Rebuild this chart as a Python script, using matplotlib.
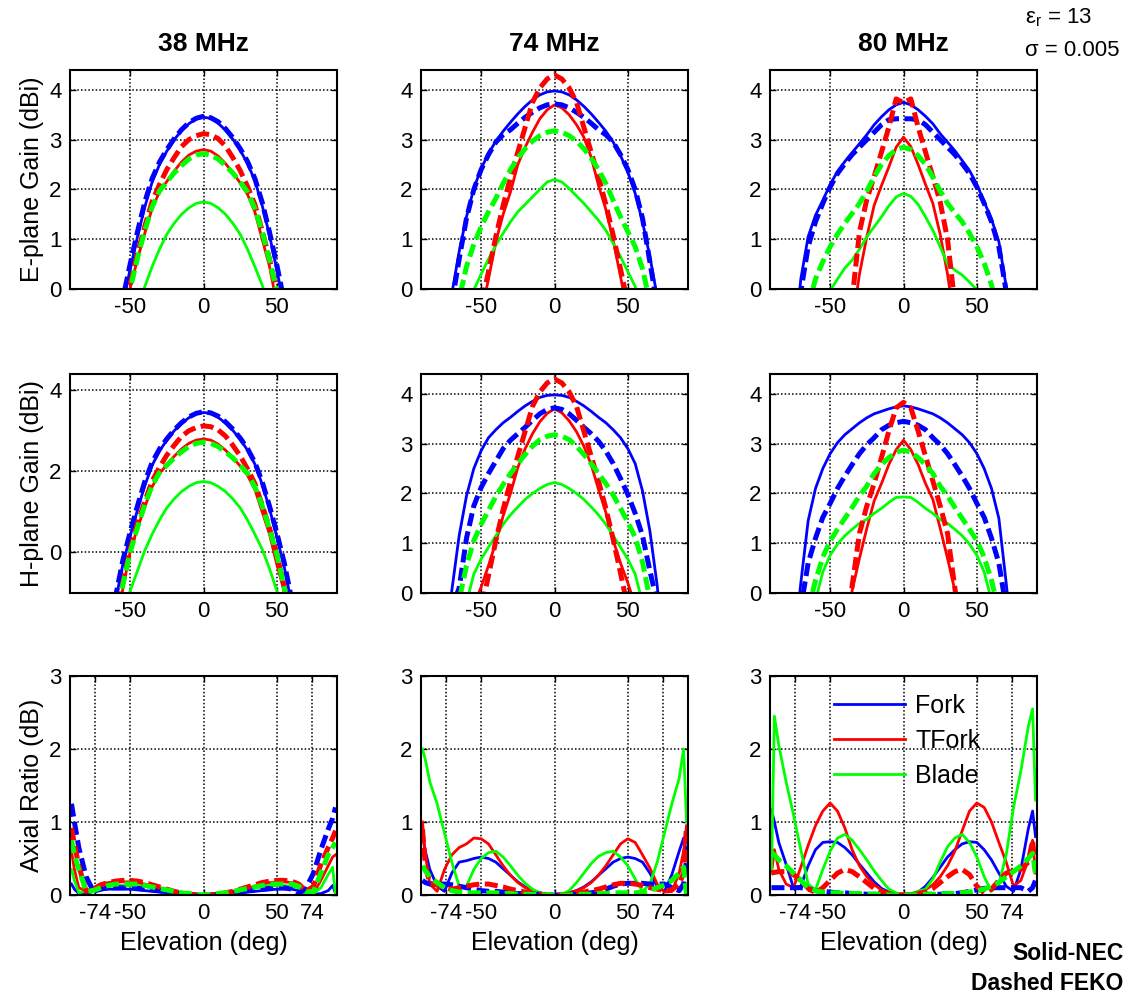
import matplotlib
matplotlib.use("Agg")
import matplotlib.pyplot as plt

plt.rcParams['font.family'] = ['Liberation Sans', 'DejaVu Sans']
plt.rcParams['mathtext.fontset'] = 'custom'
plt.rcParams['mathtext.rm'] = 'Liberation Sans'
plt.rcParams['axes.unicode_minus'] = False

# ---------------- data ----------------
freqs = ["38 MHz", "74 MHz", "80 MHz"]
names = ["Fork", "TFork", "Blade"]

# gain patterns, elevation -75..75 step 5
gain_ang = list(range(-75, 80, 5))

# 38 MHz (E- and H-plane traces read identical)
fork_nec_38 = [-5.0, -3.6, -2.3, -1.2, -0.3, 0.4, 1.05, 1.65, 2.15, 2.5, 2.77, 3.0, 3.18, 3.32, 3.42, 3.45,
               3.43, 3.33, 3.19, 3.01, 2.79, 2.52, 2.18, 1.68, 1.08, 0.38, -0.35, -1.25, -2.3, -3.6, -5.0]
fork_feko_38 = [-4.8, -3.4, -2.1, -1.1, -0.2, 0.5, 1.15, 1.75, 2.22, 2.55, 2.8, 3.02, 3.2, 3.34, 3.43, 3.47,
                3.44, 3.36, 3.22, 3.04, 2.82, 2.56, 2.22, 1.74, 1.14, 0.48, -0.25, -1.15, -2.2, -3.5, -4.9]
tfork_nec_38 = [-5.5, -4.2, -3.0, -1.95, -0.9, 0.02, 0.6, 1.12, 1.62, 1.95, 2.16, 2.37, 2.55, 2.69, 2.77, 2.8,
                2.77, 2.67, 2.52, 2.34, 2.13, 1.9, 1.55, 1.0, 0.45, -0.3, -0.95, -1.95, -3.0, -4.2, -5.5]
tfork_feko_38 = [-5.8, -4.3, -3.0, -1.75, -0.75, 0.08, 0.72, 1.26, 1.76, 2.1, 2.4, 2.64, 2.86, 3.0, 3.08, 3.12,
                 3.1, 3.02, 2.87, 2.64, 2.38, 2.06, 1.7, 1.17, 0.6, -0.05, -0.85, -1.85, -3.0, -4.3, -5.8]
blade_nec_38 = [-5.0, -3.9, -3.0, -2.2, -1.5, -0.95, -0.45, 0.05, 0.45, 0.8, 1.1, 1.32, 1.5, 1.63, 1.72, 1.75,
                1.72, 1.63, 1.5, 1.32, 1.1, 0.8, 0.45, 0.08, -0.4, -0.95, -1.5, -2.2, -3.0, -3.9, -5.0]
blade_feko_38 = [-5.4, -4.0, -2.8, -1.7, -0.8, 0.0, 0.62, 1.18, 1.65, 1.97, 2.15, 2.33, 2.48, 2.61, 2.69, 2.72,
                 2.69, 2.61, 2.48, 2.33, 2.15, 1.95, 1.62, 1.15, 0.58, -0.05, -0.85, -1.75, -2.8, -4.0, -5.4]

# 74 MHz E-plane
fork_nec_e74 = [-1.2, -0.1, 0.75, 1.45, 2.02, 2.42, 2.72, 2.97, 3.17, 3.35, 3.52, 3.67, 3.8, 3.9, 3.96, 3.98,
                3.96, 3.9, 3.8, 3.67, 3.52, 3.35, 3.17, 2.95, 2.68, 2.35, 1.92, 1.35, 0.65, -0.15, -1.2]
fork_feko_e74 = [-1.4, -0.3, 0.6, 1.42, 2.0, 2.4, 2.7, 2.95, 3.1, 3.2, 3.33, 3.45, 3.55, 3.64, 3.7, 3.72,
                 3.7, 3.64, 3.55, 3.45, 3.33, 3.2, 3.1, 2.95, 2.7, 2.4, 2.0, 1.42, 0.55, -0.35, -1.4]
tfork_nec_e74 = [-5.0, -4.0, -3.1, -2.2, -1.3, -0.5, 0.2, 0.95, 1.5, 1.95, 2.5, 2.85, 3.15, 3.42, 3.6, 3.7,
                 3.64, 3.5, 3.3, 3.05, 2.65, 2.08, 1.6, 0.98, 0.25, -0.5, -1.3, -2.2, -3.1, -4.0, -5.0]
tfork_feko_74 = [-5.0, -4.0, -3.0, -2.0, -1.1, -0.35, 0.35, 1.05, 1.68, 2.24, 2.75, 3.25, 3.75, 4.04, 4.22, 4.3,
                 4.22, 4.04, 3.75, 3.25, 2.75, 2.25, 1.7, 1.08, 0.4, -0.3, -1.1, -2.0, -3.0, -4.0, -5.0]
blade_nec_e74 = [-2.5, -1.7, -1.0, -0.45, -0.02, 0.3, 0.6, 0.88, 1.12, 1.35, 1.55, 1.7, 1.85, 2.0, 2.15, 2.2,
                 2.15, 2.02, 1.87, 1.72, 1.55, 1.38, 1.18, 0.92, 0.65, 0.35, 0.05, -0.4, -1.0, -1.7, -2.5]
blade_feko_e74 = [-1.9, -1.0, -0.2, 0.45, 0.9, 1.25, 1.55, 1.82, 2.12, 2.4, 2.63, 2.82, 2.97, 3.08, 3.15, 3.18,
                  3.15, 3.08, 2.97, 2.82, 2.63, 2.4, 2.12, 1.78, 1.45, 1.15, 0.85, 0.4, -0.25, -1.0, -1.9]

# 74 MHz H-plane
fork_nec_h74 = [-1.3, 0.05, 1.15, 1.95, 2.5, 2.86, 3.12, 3.28, 3.42, 3.53, 3.65, 3.76, 3.85, 3.93, 3.97, 3.98,
                3.97, 3.93, 3.85, 3.76, 3.65, 3.53, 3.42, 3.28, 3.12, 2.9, 2.6, 2.05, 1.25, 0.15, -1.3]
fork_feko_h74 = [-1.2, -0.3, 0.1, 1.1, 1.75, 2.12, 2.4, 2.65, 2.9, 3.07, 3.2, 3.33, 3.47, 3.6, 3.69, 3.72,
                 3.69, 3.6, 3.47, 3.33, 3.2, 3.05, 2.85, 2.6, 2.3, 1.98, 1.6, 1.15, 0.45, -0.2, -1.2]
tfork_nec_h74 = [-3.0, -2.2, -1.5, -0.8, -0.25, 0.12, 0.55, 1.02, 1.55, 2.0, 2.52, 2.9, 3.2, 3.44, 3.61, 3.7,
                 3.62, 3.46, 3.24, 2.95, 2.58, 2.08, 1.62, 1.06, 0.6, 0.2, -0.25, -0.8, -1.5, -2.2, -3.0]
blade_nec_h74 = [-2.3, -1.6, -0.9, -0.2, 0.38, 0.68, 0.92, 1.15, 1.38, 1.57, 1.73, 1.88, 2.0, 2.1, 2.18, 2.22,
                 2.18, 2.1, 2.0, 1.88, 1.73, 1.57, 1.38, 1.15, 0.92, 0.68, 0.38, -0.2, -0.9, -1.6, -2.3]
blade_feko_h74 = [-1.9, -1.0, -0.15, 0.55, 1.05, 1.38, 1.66, 1.94, 2.18, 2.4, 2.6, 2.78, 2.95, 3.08, 3.15, 3.18,
                  3.15, 3.08, 2.95, 2.78, 2.6, 2.4, 2.2, 1.97, 1.7, 1.42, 1.12, 0.62, -0.12, -1.0, -1.9]

# 80 MHz E-plane
fork_nec_e80 = [-1.3, 0.2, 1.05, 1.48, 1.78, 2.1, 2.36, 2.56, 2.74, 2.92, 3.1, 3.3, 3.46, 3.6, 3.7, 3.75,
                3.7, 3.6, 3.47, 3.32, 3.12, 2.95, 2.78, 2.58, 2.38, 2.1, 1.75, 1.4, 0.95, 0.05, -1.2]
fork_feko_e80 = [-1.3, -0.05, 0.85, 1.35, 1.72, 2.05, 2.32, 2.52, 2.7, 2.85, 3.0, 3.15, 3.3, 3.4, 3.42, 3.42,
                 3.42, 3.4, 3.3, 3.15, 3.0, 2.85, 2.7, 2.52, 2.32, 2.05, 1.72, 1.35, 0.85, -0.05, -1.2]
tfork_nec_e80 = [-8.0, -7.2, -6.4, -5.6, -4.8, -3.8, -2.8, -1.7, -0.7, 0.3, 1.05, 1.68, 2.08, 2.45, 2.85, 3.05,
                 2.86, 2.5, 2.1, 1.72, 1.1, 0.3, -0.7, -1.7, -2.8, -3.8, -4.8, -5.6, -6.4, -7.2, -8.0]
tfork_feko_e80 = [-8.0, -7.2, -6.4, -5.6, -4.8, -4.0, -2.8, -1.5, -0.2, 1.15, 1.8, 2.26, 2.75, 3.25, 3.82, 3.74,
                  3.82, 3.25, 2.75, 2.26, 1.75, 1.0, -0.3, -1.5, -2.8, -4.0, -4.8, -5.6, -6.4, -7.2, -8.0]
blade_nec_e80 = [-2.4, -1.8, -1.3, -0.9, -0.45, -0.03, 0.2, 0.42, 0.58, 0.8, 1.05, 1.25, 1.45, 1.67, 1.85, 1.92,
                 1.86, 1.7, 1.45, 1.18, 0.85, 0.5, 0.38, 0.28, 0.14, -0.02, -0.35, -0.8, -1.3, -1.8, -2.4]
blade_feko_e80 = [-1.8, -1.05, -0.35, 0.2, 0.55, 0.85, 1.1, 1.32, 1.52, 1.72, 1.97, 2.25, 2.5, 2.68, 2.8, 2.85,
                  2.8, 2.68, 2.5, 2.25, 1.97, 1.72, 1.53, 1.35, 1.12, 0.85, 0.52, 0.08, -0.5, -1.1, -1.8]

# 80 MHz H-plane
fork_nec_h80 = [-1.2, 0.2, 1.45, 2.1, 2.5, 2.8, 3.02, 3.18, 3.3, 3.42, 3.52, 3.6, 3.65, 3.7, 3.74, 3.76,
                3.74, 3.7, 3.65, 3.6, 3.52, 3.42, 3.3, 3.18, 3.02, 2.8, 2.5, 2.1, 1.5, 0.2, -1.2]
fork_feko_h80 = [-1.5, -0.3, 0.6, 1.1, 1.52, 1.8, 2.1, 2.35, 2.58, 2.8, 2.98, 3.12, 3.28, 3.37, 3.42, 3.45,
                 3.42, 3.37, 3.28, 3.12, 2.98, 2.8, 2.58, 2.35, 2.1, 1.8, 1.52, 1.1, 0.6, -0.3, -1.5]
tfork_nec_h80 = [-7.0, -6.2, -5.4, -4.6, -3.8, -2.8, -1.8, -0.8, 0.05, 0.7, 1.3, 1.85, 2.2, 2.58, 2.88, 3.07,
                 2.88, 2.58, 2.2, 1.88, 1.3, 0.7, 0.05, -0.8, -1.8, -2.8, -3.8, -4.6, -5.4, -6.2, -7.0]
tfork_feko_h80 = [-8.0, -7.0, -6.0, -5.0, -4.0, -3.0, -2.0, -1.0, 0.15, 1.2, 1.75, 2.2, 2.72, 3.25, 3.72, 3.83,
                  3.72, 3.25, 2.75, 2.25, 1.75, 1.2, 0.1, -1.0, -2.0, -3.0, -4.0, -5.0, -6.0, -7.0, -8.0]
blade_nec_h80 = [-2.2, -1.5, -0.8, -0.15, 0.42, 0.76, 0.98, 1.15, 1.28, 1.4, 1.48, 1.6, 1.7, 1.82, 1.92, 1.93,
                 1.92, 1.82, 1.7, 1.6, 1.48, 1.4, 1.28, 1.15, 0.98, 0.76, 0.42, -0.15, -0.8, -1.5, -2.2]
blade_feko_h80 = [-1.8, -1.0, -0.35, 0.25, 0.72, 1.05, 1.28, 1.5, 1.72, 1.95, 2.15, 2.4, 2.58, 2.72, 2.83, 2.87,
                  2.83, 2.72, 2.58, 2.4, 2.15, 1.95, 1.72, 1.5, 1.28, 1.05, 0.72, 0.25, -0.35, -1.0, -1.8]

# axial ratio, elevation -90..90
ar_ang = [-90, -88] + list(range(-85, 90, 5)) + [88, 90]

ar_fork_nec_38 = [0.15, 0.08, 0.02, 0.02, 0.05, 0.07, 0.08, 0.08, 0.08, 0.08,
                  0.07, 0.06, 0.05, 0.04, 0.03, 0.02, 0.01, 0.01, 0.0, 0.0,
                  0.0, 0.01, 0.01, 0.02, 0.03, 0.04, 0.05, 0.06, 0.07, 0.08,
                  0.08, 0.08, 0.06, 0.03, 0.01, 0.02, 0.06, 0.13, 0.02]
ar_fork_feko_38 = [1.25, 1.0, 0.65, 0.25, 0.05, 0.08, 0.1, 0.1, 0.1, 0.1,
                   0.09, 0.08, 0.07, 0.06, 0.04, 0.03, 0.02, 0.01, 0.0, 0.0,
                   0.0, 0.01, 0.02, 0.03, 0.04, 0.06, 0.07, 0.08, 0.09, 0.1,
                   0.1, 0.08, 0.02, 0.1, 0.3, 0.62, 0.9, 1.05, 1.2]
ar_tfork_nec_38 = [0.6, 0.35, 0.1, 0.05, 0.1, 0.15, 0.17, 0.18, 0.18, 0.18,
                   0.17, 0.15, 0.12, 0.09, 0.07, 0.04, 0.02, 0.01, 0.0, 0.0,
                   0.0, 0.01, 0.02, 0.04, 0.07, 0.09, 0.12, 0.15, 0.17, 0.18,
                   0.18, 0.17, 0.14, 0.08, 0.02, 0.2, 0.4, 0.52, 0.55]
ar_tfork_feko_38 = [0.92, 0.7, 0.4, 0.05, 0.08, 0.14, 0.17, 0.19, 0.2, 0.2,
                    0.19, 0.17, 0.14, 0.11, 0.08, 0.05, 0.03, 0.01, 0.0, 0.0,
                    0.0, 0.01, 0.03, 0.05, 0.08, 0.11, 0.14, 0.17, 0.19, 0.2,
                    0.2, 0.19, 0.15, 0.05, 0.12, 0.42, 0.65, 0.78, 0.88]
ar_blade_nec_38 = [0.35, 0.2, 0.03, 0.05, 0.08, 0.1, 0.12, 0.13, 0.13, 0.13,
                   0.13, 0.12, 0.1, 0.08, 0.06, 0.04, 0.02, 0.01, 0.0, 0.0,
                   0.0, 0.01, 0.02, 0.04, 0.06, 0.08, 0.1, 0.12, 0.13, 0.13,
                   0.13, 0.12, 0.1, 0.06, 0.02, 0.1, 0.28, 0.38, 0.0]
ar_blade_feko_38 = [0.75, 0.55, 0.35, 0.05, 0.06, 0.1, 0.13, 0.15, 0.15, 0.15,
                    0.15, 0.13, 0.11, 0.09, 0.07, 0.05, 0.03, 0.02, 0.01, 0.0,
                    0.01, 0.02, 0.03, 0.05, 0.07, 0.09, 0.11, 0.13, 0.15, 0.15,
                    0.15, 0.15, 0.12, 0.04, 0.05, 0.3, 0.55, 0.65, 0.72]

ar_fork_nec_74 = [0.8, 0.6, 0.35, 0.12, 0.05, 0.3, 0.45, 0.47, 0.5, 0.52,
                  0.5, 0.45, 0.36, 0.27, 0.18, 0.11, 0.06, 0.03, 0.01, 0.0,
                  0.01, 0.03, 0.06, 0.11, 0.18, 0.27, 0.36, 0.45, 0.5, 0.52,
                  0.5, 0.45, 0.3, 0.12, 0.05, 0.28, 0.6, 0.78, 0.6]
ar_fork_feko_74 = [0.2, 0.17, 0.15, 0.15, 0.15, 0.14, 0.12, 0.1, 0.08, 0.06,
                   0.05, 0.05, 0.04, 0.03, 0.02, 0.02, 0.01, 0.01, 0.0, 0.0,
                   0.0, 0.01, 0.01, 0.02, 0.03, 0.05, 0.08, 0.12, 0.15, 0.16,
                   0.16, 0.16, 0.15, 0.15, 0.15, 0.1, 0.06, 0.15, 0.48]
ar_tfork_nec_74 = [1.0, 0.55, 0.15, 0.05, 0.35, 0.55, 0.65, 0.7, 0.78, 0.77,
                   0.7, 0.55, 0.4, 0.27, 0.17, 0.1, 0.06, 0.03, 0.01, 0.0,
                   0.01, 0.03, 0.06, 0.1, 0.17, 0.27, 0.4, 0.55, 0.7, 0.77,
                   0.72, 0.55, 0.37, 0.15, 0.04, 0.05, 0.3, 0.6, 0.95]
ar_tfork_feko_74 = [0.9, 0.4, 0.16, 0.14, 0.1, 0.08, 0.1, 0.12, 0.14, 0.15,
                    0.15, 0.13, 0.11, 0.08, 0.06, 0.04, 0.02, 0.01, 0.0, 0.0,
                    0.0, 0.01, 0.02, 0.04, 0.06, 0.08, 0.11, 0.14, 0.16, 0.16,
                    0.15, 0.13, 0.1, 0.08, 0.06, 0.07, 0.15, 0.3, 0.95]
ar_blade_nec_74 = [2.0, 1.85, 1.55, 1.25, 0.85, 0.45, 0.12, 0.12, 0.35, 0.5,
                   0.58, 0.6, 0.52, 0.4, 0.27, 0.16, 0.08, 0.03, 0.01, 0.0,
                   0.01, 0.06, 0.17, 0.3, 0.43, 0.53, 0.58, 0.6, 0.52, 0.4,
                   0.22, 0.05, 0.15, 0.45, 0.85, 1.25, 1.6, 2.0, 1.0]
ar_blade_feko_74 = [0.4, 0.33, 0.25, 0.17, 0.1, 0.06, 0.04, 0.03, 0.03, 0.03,
                    0.03, 0.03, 0.02, 0.02, 0.01, 0.01, 0.01, 0.0, 0.0, 0.0,
                    0.0, 0.0, 0.01, 0.01, 0.01, 0.02, 0.02, 0.03, 0.03, 0.03,
                    0.03, 0.04, 0.06, 0.1, 0.14, 0.2, 0.3, 0.38, 0.0]

ar_fork_nec_80 = [1.17, 1.0, 0.72, 0.42, 0.1, 0.12, 0.4, 0.62, 0.72, 0.73,
                  0.72, 0.65, 0.55, 0.42, 0.3, 0.18, 0.09, 0.04, 0.01, 0.0,
                  0.01, 0.04, 0.12, 0.24, 0.38, 0.52, 0.62, 0.7, 0.73, 0.72,
                  0.62, 0.48, 0.3, 0.12, 0.05, 0.35, 0.9, 1.15, 0.8]
ar_fork_feko_80 = [0.1, 0.1, 0.1, 0.1, 0.1, 0.1, 0.08, 0.06, 0.05, 0.04,
                   0.03, 0.03, 0.02, 0.02, 0.01, 0.01, 0.01, 0.0, 0.0, 0.0,
                   0.0, 0.0, 0.01, 0.01, 0.01, 0.02, 0.02, 0.03, 0.05, 0.07,
                   0.09, 0.1, 0.1, 0.1, 0.1, 0.1, 0.05, 0.1, 0.2]
ar_tfork_nec_80 = [0.3, 0.62, 0.35, 0.15, 0.1, 0.38, 0.68, 0.95, 1.15, 1.26,
                   1.15, 0.92, 0.62, 0.4, 0.25, 0.14, 0.07, 0.03, 0.01, 0.0,
                   0.01, 0.03, 0.07, 0.14, 0.25, 0.4, 0.6, 0.88, 1.15, 1.26,
                   1.2, 1.0, 0.72, 0.45, 0.12, 0.2, 0.48, 0.75, 0.3]
ar_tfork_feko_80 = [0.3, 0.31, 0.32, 0.32, 0.28, 0.2, 0.09, 0.03, 0.1, 0.2,
                    0.3, 0.35, 0.32, 0.25, 0.17, 0.09, 0.04, 0.02, 0.0, 0.0,
                    0.0, 0.02, 0.04, 0.09, 0.17, 0.25, 0.32, 0.35, 0.28, 0.12,
                    0.03, 0.08, 0.2, 0.3, 0.33, 0.35, 0.45, 0.75, 0.3]
ar_blade_nec_80 = [0.3, 2.45, 2.05, 1.55, 1.1, 0.62, 0.15, 0.07, 0.35, 0.6,
                   0.78, 0.83, 0.75, 0.62, 0.48, 0.33, 0.2, 0.08, 0.03, 0.0,
                   0.02, 0.05, 0.08, 0.22, 0.45, 0.66, 0.78, 0.83, 0.72, 0.52,
                   0.25, 0.05, 0.15, 0.55, 1.2, 1.7, 2.3, 2.55, 1.3]
ar_blade_feko_80 = [0.58, 0.55, 0.48, 0.4, 0.3, 0.2, 0.1, 0.06, 0.04, 0.03,
                    0.03, 0.02, 0.02, 0.02, 0.01, 0.01, 0.01, 0.0, 0.0, 0.0,
                    0.0, 0.0, 0.01, 0.01, 0.01, 0.02, 0.02, 0.03, 0.04, 0.06,
                    0.08, 0.12, 0.17, 0.25, 0.32, 0.4, 0.5, 0.57, 0.3]

# ---------------- layout ----------------
colors = ['#0000ff', '#ff0000', '#00ff00']
W, H = 1135, 993
fig = plt.figure(figsize=(W / 100, H / 100), dpi=100)

col_left = [70, 421, 770]
row_top = [70, 374, 676]
aw, ah = 267, 219

panels = [
    # row, col, x, [nec...], [feko...], ylim, yticks
    (0, 0, gain_ang, [fork_nec_38, tfork_nec_38, blade_nec_38],
     [fork_feko_38, tfork_feko_38, blade_feko_38], (0, 4.4), [0, 1, 2, 3, 4]),
    (0, 1, gain_ang, [fork_nec_e74, tfork_nec_e74, blade_nec_e74],
     [fork_feko_e74, tfork_feko_74, blade_feko_e74], (0, 4.4), [0, 1, 2, 3, 4]),
    (0, 2, gain_ang, [fork_nec_e80, tfork_nec_e80, blade_nec_e80],
     [fork_feko_e80, tfork_feko_e80, blade_feko_e80], (0, 4.4), [0, 1, 2, 3, 4]),
    (1, 0, gain_ang, [fork_nec_38, tfork_nec_38, blade_nec_38],
     [fork_feko_38, tfork_feko_38, blade_feko_38], (-1, 4.4), [0, 2, 4]),
    (1, 1, gain_ang, [fork_nec_h74, tfork_nec_h74, blade_nec_h74],
     [fork_feko_h74, tfork_feko_74, blade_feko_h74], (0, 4.4), [0, 1, 2, 3, 4]),
    (1, 2, gain_ang, [fork_nec_h80, tfork_nec_h80, blade_nec_h80],
     [fork_feko_h80, tfork_feko_h80, blade_feko_h80], (0, 4.4), [0, 1, 2, 3, 4]),
    (2, 0, ar_ang, [ar_fork_nec_38, ar_tfork_nec_38, ar_blade_nec_38],
     [ar_fork_feko_38, ar_tfork_feko_38, ar_blade_feko_38], (0, 3), [0, 1, 2, 3]),
    (2, 1, ar_ang, [ar_fork_nec_74, ar_tfork_nec_74, ar_blade_nec_74],
     [ar_fork_feko_74, ar_tfork_feko_74, ar_blade_feko_74], (0, 3), [0, 1, 2, 3]),
    (2, 2, ar_ang, [ar_fork_nec_80, ar_tfork_nec_80, ar_blade_nec_80],
     [ar_fork_feko_80, ar_tfork_feko_80, ar_blade_feko_80], (0, 3), [0, 1, 2, 3]),
]

ylabels = ["E-plane Gain (dBi)", "H-plane Gain (dBi)", "Axial Ratio (dB)"]

for row, col, xs, nec, feko, ylim, yticks in panels:
    ax = fig.add_axes([col_left[col] / W, 1 - (row_top[row] + ah) / H, aw / W, ah / H])
    handles = []
    for ys, c, nm in zip(nec, colors, names):
        h, = ax.plot(xs, ys, color=c, lw=2.0, label=nm)
        handles.append(h)
    for ys, c in zip(feko, colors):
        ax.plot(xs, ys, color=c, lw=3.6, linestyle=(0, (2.6, 1.1)))
    ax.set_xlim(-91, 91)
    ax.set_ylim(*ylim)
    ax.set_yticks(yticks)
    if row == 2:
        ax.set_xticks([-74, -50, 0, 50, 74])
        ax.set_xlabel("Elevation (deg)", fontsize=18, labelpad=5)
    else:
        ax.set_xticks([-50, 0, 50])
    ax.grid(True, color='k', linestyle=(0, (1, 1.4)), lw=1.1)
    ax.tick_params(direction='in', top=True, right=True, length=4, width=1,
                   labelsize=16, pad=6)
    for s in ax.spines.values():
        s.set_linewidth(1.5)
    if col == 0:
        ax.set_ylabel(ylabels[row], fontsize=18, labelpad=4)
    if row == 0:
        ax.set_title(freqs[col], fontsize=19, fontweight='bold', pad=14)
    if row == 2 and col == 2:
        ax.legend(handles=handles, loc='upper left', bbox_to_anchor=(0.24, 0.92),
                  frameon=False, fontsize=18, handlelength=2.85, handletextpad=0.4,
                  labelspacing=0.45, borderaxespad=0, borderpad=0)

fig.text(0.903, 0.982, r"ε$_\mathrm{r}$ = 13", fontsize=16, ha='left', va='center')
fig.text(0.903, 0.949, "σ = 0.005", fontsize=16, ha='left', va='center')
fig.text(0.990, 0.040, "Solid-NEC", fontsize=16.5, fontweight='bold', ha='right', va='center')
fig.text(0.990, 0.010, "Dashed FEKO", fontsize=16.5, fontweight='bold', ha='right', va='center')

fig.savefig("out.png", dpi=100)
